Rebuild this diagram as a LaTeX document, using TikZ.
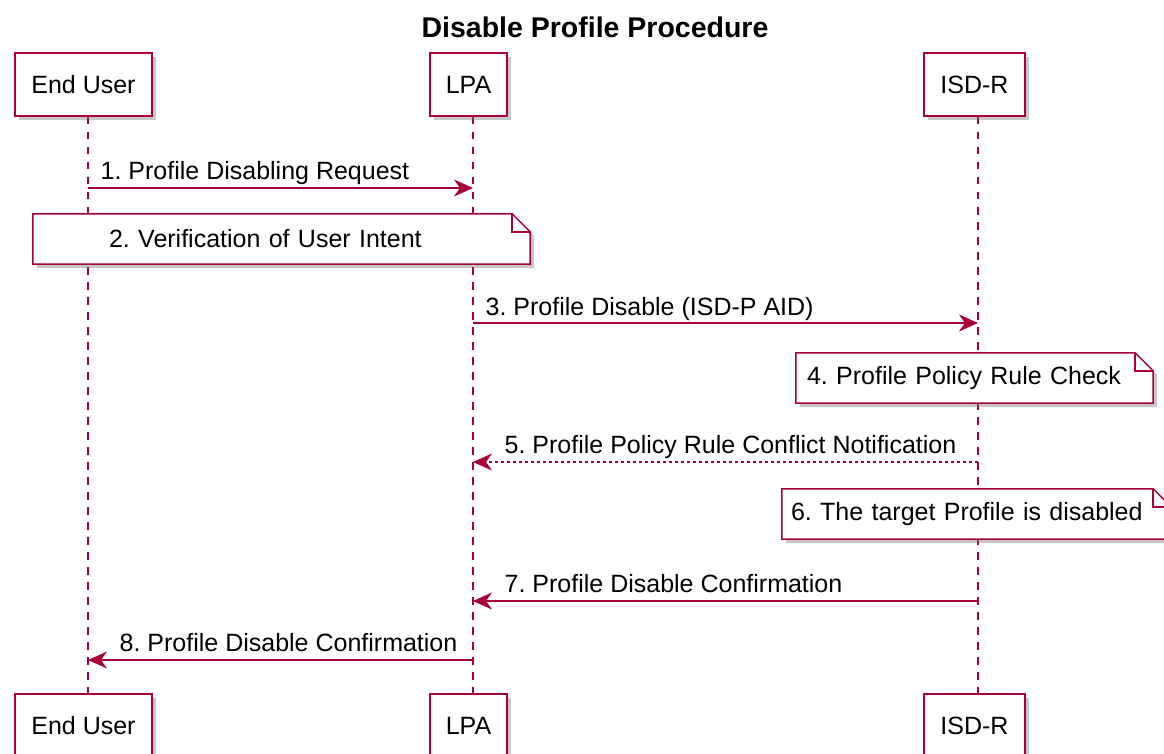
\documentclass[tikz,border=0pt]{standalone}
\usepackage{fontspec}
\setmainfont{Liberation Sans}
\usetikzlibrary{arrows.meta,shadows,backgrounds}
\definecolor{umlred}{HTML}{A80036}
\frenchspacing

\begin{document}
\begin{tikzpicture}[x=1pt,y=-1pt,
    shade/.style={drop shadow={shadow xshift=4pt, shadow yshift=-4pt, fill=black!55, opacity=0.4}},
    part/.style={draw=umlred, line width=2pt, fill=white, minimum height=63pt,
        inner xsep=16pt, font=\fontsize{25}{30}\selectfont, shade},
    life/.style={umlred, line width=1.3pt, dash pattern=on 7.5pt off 7.5pt},
    msg/.style={umlred, line width=1.4pt, -{Stealth[length=19pt, width=17pt, inset=6pt]}},
    reply/.style={msg, dash pattern=on 3pt off 3pt},
    lbl/.style={text=black, font=\fontsize{25}{30}\selectfont, inner sep=0pt, anchor=base west},
    note/.style={font=\fontsize{25}{30}\selectfont, minimum height=50pt, inner ysep=0pt, align=left},
    notebox/.style={draw=umlred, line width=1.5pt, fill=white, shade},
    title/.style={font=\bfseries\fontsize{28.5}{33}\selectfont}
]
    \useasboundingbox (0,0) rectangle (1164,754);

    \node[title] (ttl) at (595,27) {Disable Profile Procedure};

    % lifelines and participant boxes
    \coordinate (eu) at (88,0);
    \coordinate (lpa) at (473,0);
    \coordinate (isdr) at (978,0);
    \foreach \n/\x/\t in {eu/83.5/End User, lpa/468.5/LPA, isdr/974.5/ISD-R}
    {
        \node[part] (\n-top) at (\x,84.5) {\t};
        \node[part] (\n-bot) at (\x,725.5) {\t};
    }

    % notes
    \node[note, inner xsep=76pt, text width=345pt] (verify) at (281.5,239) {2. Verification of User Intent};
    \node[note, inner xsep=11pt, text width=335pt] (check) at (974.5,378) {4. Profile Policy Rule Check};
    \node[note, inner xsep=9pt, text width=371pt] (disabled) at (976.5,514) {6. The target Profile is disabled};

    \begin{scope}[on background layer]
        \foreach \n in {eu,lpa,isdr}
            \draw[life] (\n |- \n-top.south) -- (\n |- \n-bot.north);
        \foreach \n in {verify,check,disabled}
        {
            \filldraw[notebox] (\n.north west) -- ([xshift=-18pt]\n.north east)
                -- ([yshift=-18pt]\n.north east) -- (\n.south east) -- (\n.south west) -- cycle;
            \draw[umlred, line width=1.5pt] ([xshift=-18pt]\n.north east) |- ([yshift=-18pt]\n.north east);
        }
    \end{scope}

    % messages
    \coordinate (m1) at (0,188);
    \coordinate (m3) at (0,323);
    \coordinate (m5) at (0,462);
    \coordinate (m7) at (0,601);
    \coordinate (m8) at (0,660);

    \draw[msg] (eu |- m1) -- (lpa |- m1)
        node[lbl, at start, xshift=12pt, yshift=8pt] {1. Profile Disabling Request};
    \draw[msg] (lpa |- m3) -- (isdr |- m3)
        node[lbl, at start, xshift=12pt, yshift=8pt] {3. Profile Disable (ISD-P AID)};
    \draw[reply] (isdr |- m5) -- (lpa |- m5)
        node[lbl, at end, xshift=31pt, yshift=9pt] {5. Profile Policy Rule Conflict Notification};
    \draw[msg] (isdr |- m7) -- (lpa |- m7)
        node[lbl, at end, xshift=31pt, yshift=9pt] {7. Profile Disable Confirmation};
    \draw[msg] (lpa |- m8) -- (eu |- m8)
        node[lbl, at end, xshift=31pt, yshift=9pt] {8. Profile Disable Confirmation};

\end{tikzpicture}
\end{document}
